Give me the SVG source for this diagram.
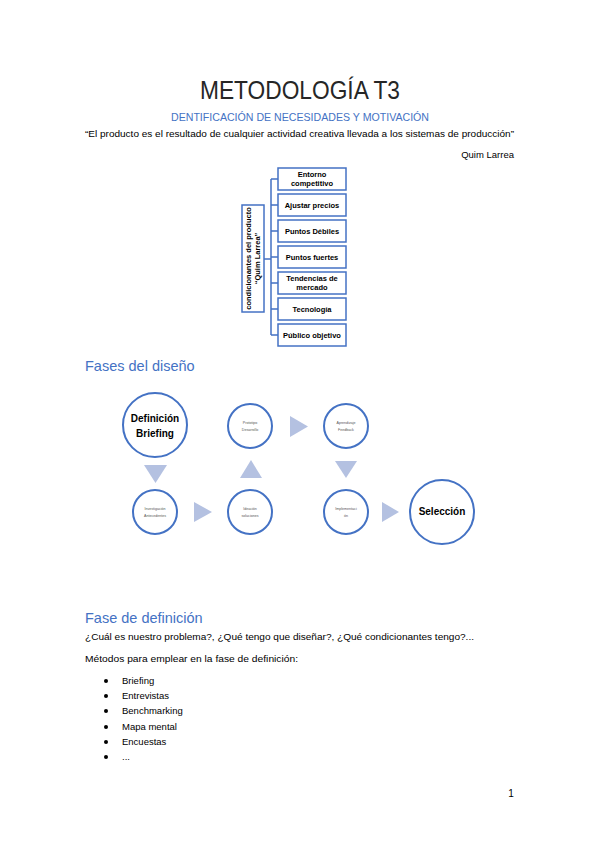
<svg xmlns="http://www.w3.org/2000/svg" width="599" height="848" viewBox="0 0 599 848">
<style>
text{font-family:"Liberation Sans",Arial,sans-serif;fill:#000}
.h{fill:#4472c4}
.box{fill:#fff;stroke:#4472c4;stroke-width:1.5}
.bt{font-size:7.5px;font-weight:bold;text-anchor:middle}
.c{fill:#fff;stroke:#4472c4;stroke-width:2}
.tri{fill:#b4c1e1}
.sm{font-size:3.6px;text-anchor:middle;fill:#555}
.big{font-size:10px;font-weight:bold;text-anchor:middle}
.body{font-size:9.5px}
.conn{fill:none;stroke:#4472c4;stroke-width:1.5}
</style>
<rect width="599" height="848" fill="#fff"/>
<text x="300" y="99" style="font-size:25px;fill:#262626" text-anchor="middle" textLength="200" lengthAdjust="spacingAndGlyphs">METODOLOGÍA T3</text>
<text class="h" x="300" y="121" style="font-size:10.5px" text-anchor="middle" textLength="258" lengthAdjust="spacingAndGlyphs">DENTIFICACIÓN DE NECESIDADES Y MOTIVACIÓN</text>
<text class="body" x="85" y="137" textLength="429" lengthAdjust="spacingAndGlyphs">“El producto es el resultado de cualquier actividad creativa llevada a los sistemas de producción”</text>
<text class="body" x="514" y="158" text-anchor="end">Quim Larrea</text>

<g id="connectors">
<path class="conn" d="M264 259H271M271 179V335M271 179H278M271 205H278M271 231H278M271 257H278M271 283H278M271 309H278M271 335H278"/>
</g>
<g id="root">
<rect class="box" x="242" y="205" width="22" height="107"/>
<text class="bt" transform="translate(251 258.5) rotate(-90)">condicionantes del producto</text>
<text class="bt" transform="translate(260 258.5) rotate(-90)">“Quim Larrea”</text>
</g>
<g id="n1"><rect class="box" x="278" y="168" width="68" height="22"/><text class="bt" x="312" y="177">Entorno</text><text class="bt" x="312" y="186">competitivo</text></g>
<g id="n2"><rect class="box" x="278" y="194" width="68" height="22"/><text class="bt" x="312" y="208">Ajustar precios</text></g>
<g id="n3"><rect class="box" x="278" y="220" width="68" height="22"/><text class="bt" x="312" y="234">Puntos Débiles</text></g>
<g id="n4"><rect class="box" x="278" y="246" width="68" height="22"/><text class="bt" x="312" y="260">Puntos fuertes</text></g>
<g id="n5"><rect class="box" x="278" y="272" width="68" height="22"/><text class="bt" x="312" y="281">Tendencias de</text><text class="bt" x="312" y="290">mercado</text></g>
<g id="n6"><rect class="box" x="278" y="298" width="68" height="22"/><text class="bt" x="312" y="312">Tecnología</text></g>
<g id="n7"><rect class="box" x="278" y="324" width="68" height="22"/><text class="bt" x="312" y="338">Público objetivo</text></g>

<text class="h" x="85" y="371" style="font-size:14.5px">Fases del diseño</text>

<g id="arrows">
<polygon class="tri" points="144,465 167,465 155.5,483"/>
<polygon class="tri" points="194,502 194,522 212,512"/>
<polygon class="tri" points="240,478 262,478 251,460"/>
<polygon class="tri" points="290,416 290,437 308,426.5"/>
<polygon class="tri" points="335,461 357,461 346,478"/>
<polygon class="tri" points="382,502 382,522 399,512"/>
</g>
<g id="p1"><circle class="c" cx="155" cy="425" r="32"/><text class="big" x="155" y="422">Definición</text><text class="big" x="155" y="437">Briefing</text></g>
<g id="p2"><circle class="c" cx="155" cy="512" r="22"/><text class="sm" x="155" y="510">Investigación</text><text class="sm" x="155" y="517">Antecedentes</text></g>
<g id="p3"><circle class="c" cx="250" cy="512" r="22"/><text class="sm" x="250" y="510">Ideación</text><text class="sm" x="250" y="517">soluciones</text></g>
<g id="p4"><circle class="c" cx="250" cy="426" r="22"/><text class="sm" x="250" y="424">Prototipo</text><text class="sm" x="250" y="431">Desarrollo</text></g>
<g id="p5"><circle class="c" cx="346" cy="426" r="22"/><text class="sm" x="346" y="424">Aprendizaje</text><text class="sm" x="346" y="431">Feedback</text></g>
<g id="p6"><circle class="c" cx="346" cy="512" r="22"/><text class="sm" x="346" y="510">Implementaci</text><text class="sm" x="346" y="517">ón</text></g>
<g id="p7"><circle class="c" cx="442" cy="512" r="32"/><text class="big" x="442" y="515">Selección</text></g>

<text class="h" x="85" y="623" style="font-size:14.5px">Fase de definición</text>
<text class="body" x="85" y="640" textLength="389" lengthAdjust="spacingAndGlyphs">¿Cuál es nuestro problema?, ¿Qué tengo que diseñar?, ¿Qué condicionantes tengo?...</text>
<text class="body" x="85" y="662" textLength="213" lengthAdjust="spacingAndGlyphs">Métodos para emplear en la fase de definición:</text>
<g id="bullets">
<circle cx="106" cy="681" r="2"/><text class="body" x="122" y="684">Briefing</text>
<circle cx="106" cy="696" r="2"/><text class="body" x="122" y="699">Entrevistas</text>
<circle cx="106" cy="711" r="2"/><text class="body" x="122" y="714">Benchmarking</text>
<circle cx="106" cy="727" r="2"/><text class="body" x="122" y="730">Mapa mental</text>
<circle cx="106" cy="742" r="2"/><text class="body" x="122" y="745">Encuestas</text>
<circle cx="106" cy="757" r="2"/><text class="body" x="122" y="760">...</text>
</g>
<text class="body" x="511" y="797" style="font-size:10px" text-anchor="middle">1</text>
</svg>
